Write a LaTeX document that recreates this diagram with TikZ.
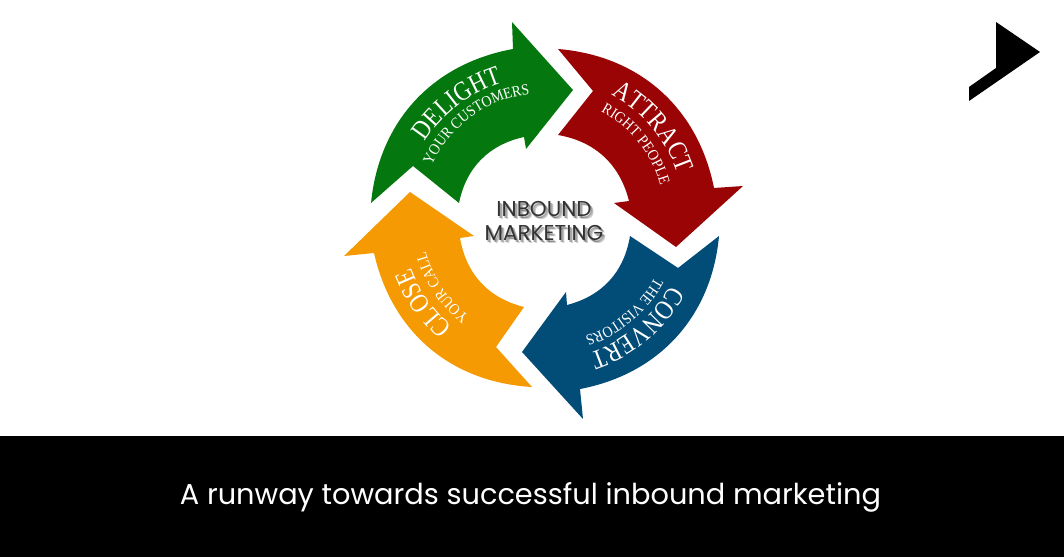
\documentclass[tikz,border=0pt]{standalone}
\usepackage{fontspec}
\usetikzlibrary{decorations.text}
\newfontfamily\gothicfont{Poppins}
\newfontfamily\titlefont[FakeStretch=0.85]{Liberation Serif}
\newfontfamily\subfont[FakeStretch=0.9]{Liberation Serif}
\definecolor{delightgreen}{HTML}{04780F}
\definecolor{attractred}{HTML}{9B0404}
\definecolor{convertblue}{HTML}{024C78}
\definecolor{closeorange}{HTML}{F59A02}
\newcommand{\arrowtitle}{\titlefont\fontsize{27}{27}\selectfont\color{white}}
\newcommand{\arrowsub}{\subfont\fontsize{15.5}{16}\selectfont\color{white}}
\newcommand{\hubtext}{INBOUND\\MARKETING}
\begin{document}
\begin{tikzpicture}[x=1pt, y=1pt,
    bentlabel/.style = {decorate, decoration={text along path, text align=center, text={#1}}},
    hublabel/.style = {align=center, font=\gothicfont\fontsize{21.5}{24}\selectfont, inner sep=0pt}]
    \useasboundingbox (0,0) rectangle (1064,557);
    \fill[black] (0,0) rectangle (1064,121);
    \fill[black] (996,535) -- (1040,505) -- (969,456) -- (969,470) -- (996,489) -- cycle;
    % the four arrows
    \fill[delightgreen] (371,354) to[bend left=37] (513,508) -- (512,535) -- (573,467) -- (526,408)
        -- (524,420) to[bend right=33] (459,354) -- (413,391) -- cycle;
    \fill[attractred] (558,508) to[bend left=37] (714,369) -- (743,371) -- (676,310) -- (614,354)
        -- (629,356) to[bend right=33] (558,422) -- (593,466) -- cycle;
    \fill[convertblue] (719,321) to[bend left=37] (580,168) -- (583,138) -- (522,205) -- (566,265)
        -- (567,252) to[bend right=33] (630,321) -- (678,289) -- cycle;
    \fill[closeorange] (532,170) to[bend left=37] (374,304) -- (344,301) -- (410,365) -- (474,321)
        -- (460,319) to[bend right=33] (524,250) -- (496,210) -- cycle;
    % bent words
    \path[bentlabel={|\arrowtitle|DELIGHT}] (545,339) ++(149:142) arc[start angle=149, end angle=106, radius=142];
    \path[bentlabel={|\arrowsub|YOUR CUSTOMERS}] (545,339) ++(155:125) arc[start angle=155, end angle=97, radius=125];
    \path[bentlabel={|\arrowtitle|ATTRACT}] (545,339) ++(63:140) arc[start angle=63, end angle=17, radius=140];
    \path[bentlabel={|\arrowsub|RIGHT PEOPLE}] (545,339) ++(63:120) arc[start angle=63, end angle=15, radius=120];
    \path[bentlabel={|\arrowtitle|CONVERT}] (545,339) ++(-26:142) arc[start angle=-26, end angle=-74, radius=142];
    \path[bentlabel={|\arrowsub|THE VISITORS}] (545,339) ++(-28:125) arc[start angle=-28, end angle=-72, radius=125];
    \path[bentlabel={|\arrowtitle|CLOSE}] (545,339) ++(232:143) arc[start angle=232, end angle=198, radius=143];
    \path[bentlabel={|\arrowsub|YOUR CALL}] (545,339) ++(233:124) arc[start angle=233, end angle=195, radius=124];
    % soft shadow behind the hub words
    \foreach \dx/\dy in {1/-2, 2/-2, 3/-3}
        \node[hublabel, text=black, opacity=0.2] (hubshadow) at (544+\dx,336+\dy) {\hubtext};
    \node[hublabel, text=black!80] (hub) at (544,336) {\hubtext};
    \node[text=white, inner sep=0pt, font=\gothicfont\fontsize{28.8}{29}\selectfont] (runway) at (530.5,60) {A runway towards successful inbound marketing};
\end{tikzpicture}
\end{document}
